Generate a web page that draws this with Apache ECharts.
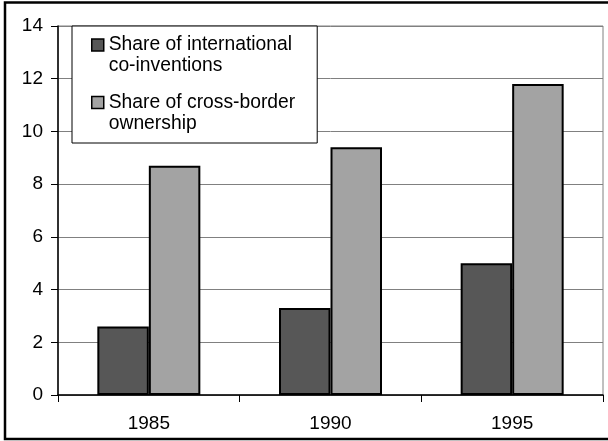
<!DOCTYPE html>
<html>
<head>
<meta charset="utf-8">
<title>International co-inventions and cross-border ownership</title>
<script src="https://cdn.jsdelivr.net/npm/echarts@6/dist/echarts.min.js"></script>
<style>
  html, body { margin: 0; padding: 0; background: #fff; }
  #chart { width: 608px; height: 441px; }
</style>
</head>
<body>
<div id="chart"></div>
<script>
// Years on the category axis
var years = ['1985', '1990', '1995'];

// Series labels (line breaks as shown in the legend box)
var coInventionName = 'Share of international\nco-inventions';
var ownershipName = 'Share of cross-border\nownership';

// Values (%)
var coInventionShare = [2.6, 3.3, 5.0];
var ownershipShare = [8.7, 9.4, 11.8];

// Value axis ticks
var yTicks = [0, 2, 4, 6, 8, 10, 12, 14];

var FONT = 'Liberation Sans, Arial, sans-serif';

var chart = echarts.init(document.getElementById('chart'), null, { renderer: 'canvas' });

chart.setOption({
  animation: false,
  backgroundColor: '#fff',
  grid: {
    left: 58,
    right: 5,
    top: 26,
    bottom: 46,
    show: true,
    borderColor: '#808080',
    borderWidth: 1,
    backgroundColor: 'transparent'
  },
  legend: {
    orient: 'vertical',
    left: 72,
    top: 26,
    padding: [8.5, 22, 9, 19],
    itemGap: 15.5,
    itemWidth: 12,
    itemHeight: 33,
    // square at the top of a taller box so it sits beside the first text line
    icon: 'path://M0,0H12V12H0Z M0,33',
    backgroundColor: '#fff',
    borderColor: '#000',
    borderWidth: 1,
    borderRadius: 0,
    itemStyle: { borderColor: '#000', borderWidth: 1.5 },
    textStyle: { fontFamily: FONT, fontSize: 19.3, lineHeight: 21, color: '#000' },
    data: [coInventionName, ownershipName]
  },
  xAxis: {
    type: 'category',
    data: years,
    boundaryGap: true,
    axisLine: { lineStyle: { color: '#000', width: 1.5 } },
    axisTick: { show: true, length: 7, alignWithLabel: false, lineStyle: { color: '#000', width: 1 } },
    axisLabel: { fontFamily: FONT, fontSize: 19, color: '#000', margin: 19 },
    splitLine: { show: false }
  },
  yAxis: {
    type: 'value',
    min: yTicks[0],
    max: yTicks[yTicks.length - 1],
    interval: 2,
    axisLine: { show: true, lineStyle: { color: '#000', width: 1.5 } },
    axisTick: { show: true, length: 7, lineStyle: { color: '#000', width: 1 } },
    axisLabel: { fontFamily: FONT, fontSize: 19, color: '#000', margin: 15 },
    splitLine: { show: true, lineStyle: { color: '#808080', width: 1 } }
  },
  series: [
    {
      name: coInventionName,
      type: 'bar',
      data: coInventionShare,
      barWidth: 51.5,
      barGap: '0%',
      itemStyle: { color: '#575757', borderColor: '#000', borderWidth: 2 }
    },
    {
      name: ownershipName,
      type: 'bar',
      data: ownershipShare,
      barWidth: 51.5,
      barGap: '0%',
      itemStyle: { color: '#a3a3a3', borderColor: '#000', borderWidth: 2 }
    }
  ],
  graphic: [
    {
      // outer chart frame
      type: 'rect',
      silent: true,
      z: 100,
      shape: { x: 5, y: 2.5, width: 700, height: 436.5 },
      style: { fill: 'none', stroke: '#000', lineWidth: 2.5 }
    }
  ]
});
</script>
</body>
</html>
